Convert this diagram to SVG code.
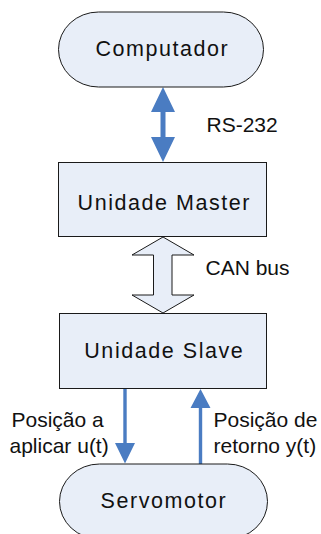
<svg xmlns="http://www.w3.org/2000/svg" width="321" height="534" viewBox="0 0 321 534">
  <defs>
    <style>
      .shape { fill: #E8EEF8; stroke: #1a1a1a; stroke-width: 1; }
      .node-text { font-family: "Liberation Sans", Arial, sans-serif; font-size: 21.5px; letter-spacing: 1.55px; fill: #111; }
      .label { font-family: "Liberation Sans", Arial, sans-serif; font-size: 21px; fill: #111; }
      .blue { fill: #4A7CC2; stroke: none; }
      .hollow { fill: #E8EEF8; stroke: #1a1a1a; stroke-width: 1; }
    </style>
  </defs>
  <rect width="321" height="534" fill="#ffffff"/>

  <g id="connectors">
    <!-- RS-232: double-headed solid arrow -->
    <path class="blue" d="M163,87 L175,112 L165.5,112 L165.5,137 L175,137 L163,162 L151,137 L160.5,137 L160.5,112 L151,112 Z"/>
    <!-- CAN bus: double-headed hollow arrow -->
    <path class="hollow" d="M163,237 L194,255 L172,255 L172,295 L194,295 L163,313 L132,295 L153.5,295 L153.5,255 L132,255 Z"/>
    <!-- Slave to servomotor: u(t) -->
    <path class="blue" d="M123.3,388.5 L126.7,388.5 L126.7,443 L135,443 L125,463.5 L115,443 L123.3,443 Z"/>
    <!-- Servomotor to slave: y(t) -->
    <path class="blue" d="M200.5,389 L210.5,408 L202.2,408 L202.2,464 L198.8,464 L198.8,408 L190.5,408 Z"/>
  </g>

  <g id="computador">
    <rect class="shape" x="58.5" y="12" width="205" height="75" rx="40" ry="37.5"/>
    <text class="node-text" x="95.5" y="56">Computador</text>
  </g>

  <g id="unidade-master">
    <rect class="shape" x="58.5" y="162.5" width="208" height="74"/>
    <text class="node-text" x="77.6" y="210">Unidade Master</text>
  </g>

  <g id="unidade-slave">
    <rect class="shape" x="59.5" y="313.5" width="207" height="75"/>
    <text class="node-text" x="84.3" y="357.7">Unidade Slave</text>
  </g>

  <g id="servomotor">
    <rect class="shape" x="59.5" y="464" width="208" height="75" rx="40" ry="37.5"/>
    <text class="node-text" x="100.6" y="508">Servomotor</text>
  </g>

  <g id="labels">
    <text class="label" x="206.5" y="132.3">RS-232</text>
    <text class="label" x="205.5" y="275">CAN bus</text>
    <text class="label" x="11.5" y="426.7">Posição a</text>
    <text class="label" x="9.5" y="452.5">aplicar u(t)</text>
    <text class="label" x="213.5" y="426.7">Posição de</text>
    <text class="label" x="213.5" y="452.5">retorno y(t)</text>
  </g>
</svg>
